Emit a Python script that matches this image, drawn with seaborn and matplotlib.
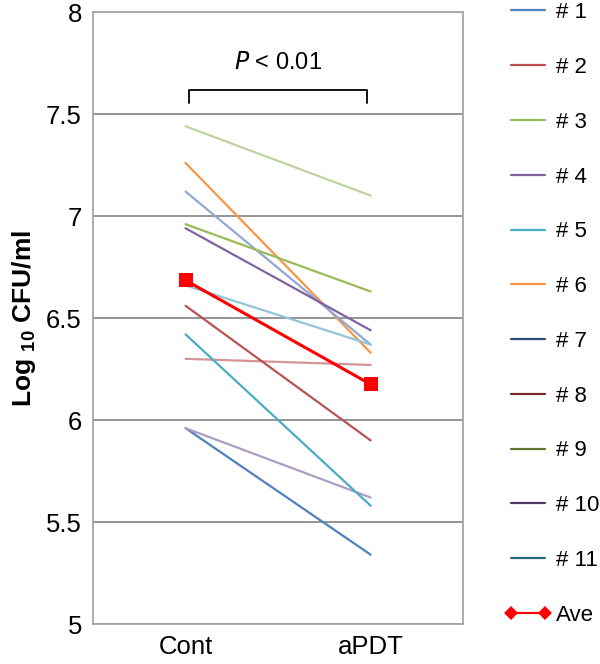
import numpy as np
import pandas as pd
import matplotlib
matplotlib.use('Agg')
import matplotlib.pyplot as plt
from matplotlib.lines import Line2D
import seaborn as sns

# Data
conditions = ['Cont', 'aPDT']
samples = ['# 1', '# 2', '# 3', '# 4', '# 5', '# 6', '# 7', '# 8', '# 9', '# 10', '# 11']
cont = [5.96, 6.30, 7.44, 5.96, 6.42, 7.26, 7.12, 6.56, 6.96, 6.94, 6.66]
apdt = [5.34, 6.27, 7.10, 5.62, 5.58, 6.33, 6.37, 5.90, 6.63, 6.44, 6.37]
ave = [6.685, 6.175]

# colours of the plotted lines and of the legend entries
line_colors = ['#4F81BD', '#D39496', '#BDD39C', '#AC9EC2', '#4BACC6', '#F79646',
               '#8FA9D3', '#B55452', '#9BBB59', '#8064A2', '#91C4D8']
legend_colors = ['#4F81BD', '#C0504D', '#9BBB59', '#8064A2', '#4BACC6', '#F79646',
                 '#2C4D75', '#772C2A', '#5F7530', '#4D3B62', '#276A7C']

df = pd.DataFrame({
    'sample': samples * 2,
    'condition': [conditions[0]] * len(samples) + [conditions[1]] * len(samples),
    'value': cont + apdt,
})
df_ave = pd.DataFrame({'condition': conditions, 'value': ave})

sns.set_style('white')
plt.rcParams['font.family'] = ['Liberation Sans', 'DejaVu Sans']
plt.rcParams['text.color'] = 'black'
plt.rcParams['axes.labelcolor'] = 'black'
plt.rcParams['xtick.color'] = 'black'
plt.rcParams['ytick.color'] = 'black'

fig = plt.figure(figsize=(6, 6.64), dpi=100)
ax = fig.add_axes([0.155, 0.0602, 0.617, 0.9217])

sns.lineplot(data=df, x='condition', y='value', hue='sample',
             palette=dict(zip(samples, line_colors)), linewidth=1.6,
             legend=False, ax=ax, zorder=3)
sns.lineplot(data=df_ave, x='condition', y='value', color='#FF0000',
             linewidth=2.2, marker='s', markersize=10, markeredgewidth=0,
             ax=ax, zorder=4)

ax.set_xlim(-0.5, 1.5)
ax.set_ylim(5, 8)
ax.set_yticks(np.arange(5, 8.01, 0.5))
ax.set_yticklabels(['5', '5.5', '6', '6.5', '7', '7.5', '8'])
ax.yaxis.grid(True, color='#8C8C8C', linewidth=1.3)
ax.set_axisbelow(True)
for s in ax.spines.values():
    s.set_color('#A6A6A6')
    s.set_linewidth(1.3)
ax.tick_params(axis='both', length=0, labelsize=18.5, pad=8)
ax.set_xlabel('')
ax.set_ylabel(r'Log $_{\mathregular{10}}$ CFU/ml', fontsize=19, fontweight='bold', labelpad=6)

# significance bracket
ax.plot([0.02, 0.02, 0.98, 0.98], [7.555, 7.618, 7.618, 7.555], color='black',
        linewidth=1.3, clip_on=False)
ax.text(0.5, 7.75, r'$P$ < 0.01', ha='center', va='center', fontsize=17)

# legend
handles = [Line2D([0], [0], color=c, linewidth=1.6) for c in legend_colors]
handles.append(Line2D([0], [0], color='#FF0000', linewidth=1.6, marker='D',
                      markersize=7.5, markeredgewidth=0))
labels = samples + ['Ave']
ax.legend(handles, labels, loc='upper left', bbox_to_anchor=(1.11, 1.016),
          frameon=False, fontsize=16, handlelength=2.16, handletextpad=0.18,
          labelspacing=1.52, numpoints=2, borderaxespad=0, borderpad=0)

plt.savefig('out.png', dpi=100)
